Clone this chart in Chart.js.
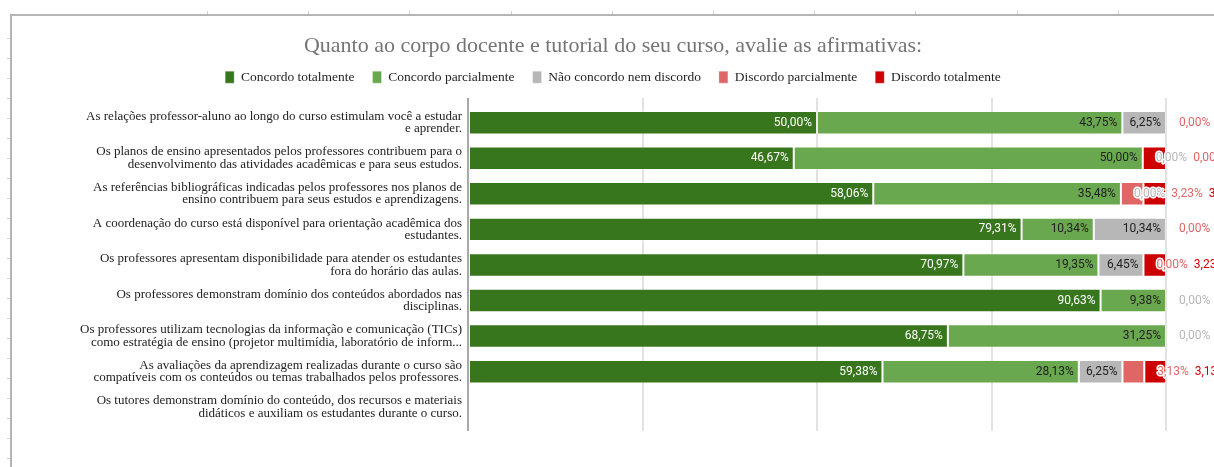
<!DOCTYPE html>
<html>
<head>
<meta charset="utf-8">
<script src="https://cdn.jsdelivr.net/npm/chart.js@4"></script>
<style>
  body { margin: 0; background: #fff; }
  canvas { display: block; }
</style>
</head>
<body>
<canvas id="chart" width="1214" height="467"></canvas>
<script>
// Data
const categories = [
    ["As relações professor-aluno ao longo do curso estimulam você a estudar", "e aprender."],
    ["Os planos de ensino apresentados pelos professores contribuem para o", "desenvolvimento das atividades acadêmicas e para seus estudos."],
    ["As referências bibliográficas indicadas pelos professores nos planos de", "ensino contribuem para seus estudos e aprendizagens."],
    ["A coordenação do curso está disponível para orientação acadêmica dos", "estudantes."],
    ["Os professores apresentam disponibilidade para atender os estudantes", "fora do horário das aulas."],
    ["Os professores demonstram domínio dos conteúdos abordados nas", "disciplinas."],
    ["Os professores utilizam tecnologias da informação e comunicação (TICs)", "como estratégia de ensino (projetor multimídia, laboratório de inform..."],
    ["As avaliações da aprendizagem realizadas durante o curso são", "compatíveis com os conteúdos ou temas trabalhados pelos professores."],
    ["Os tutores demonstram domínio do conteúdo, dos recursos e materiais", "didáticos e auxiliam os estudantes durante o curso."]
]
const seriesNames = ["Concordo totalmente", "Concordo parcialmente", "Não concordo nem discordo", "Discordo parcialmente", "Discordo totalmente"]
const concordoTotalmente   = [50.00, 46.67, 58.06, 79.31, 70.97, 90.63, 68.75, 59.38, null]
const concordoParcialmente = [43.75, 50.00, 35.48, 10.34, 19.35, 9.38, 31.25, 28.13, null]
const naoConcordo          = [6.25, 0, 0, 10.34, 6.45, 0, 0, 6.25, null]
const discordoParcialmente = [0, 0, 3.23, 0, 0, 0, 0, 3.13, null]
const discordoTotalmente   = [0, 3.33, 3.23, 0, 3.23, 0, 0, 3.13, null]
const xTicks = [0, 25, 50, 75, 100]

const colors = ["#38761d", "#6aa84f", "#b7b7b7", "#e06666", "#cc0000"]
const insideText = ["#ffffff", "#212121", "#212121", "#ffffff", "#ffffff"]
const seriesValues = [concordoTotalmente, concordoParcialmente, naoConcordo, discordoParcialmente, discordoTotalmente]

const serif = "'Liberation Serif', 'DejaVu Serif', serif"

// sheet frame behind the chart
const framePlugin = {
    id: "frame",
    beforeDraw(chart) {
        const ctx = chart.ctx
        ctx.save()
        ctx.fillStyle = "#fff"
        ctx.fillRect(0, 0, chart.width, chart.height)
        ctx.strokeStyle = "#b5b5b5"
        ctx.lineWidth = 2
        ctx.beginPath()
        ctx.moveTo(10, 15)
        ctx.lineTo(chart.width, 15)
        ctx.moveTo(11, 14)
        ctx.lineTo(11, chart.height)
        ctx.stroke()
        ctx.strokeStyle = "#d0d0d0"
        ctx.lineWidth = 1
        ctx.beginPath()
        for (let y = 38; y < chart.height; y += 20) {
            ctx.moveTo(7, y + 0.5)
            ctx.lineTo(10, y + 0.5)
        }
        for (let x = 207; x < chart.width; x += 101.2) {
            ctx.moveTo(Math.round(x) + 0.5, 11)
            ctx.lineTo(Math.round(x) + 0.5, 14)
        }
        ctx.stroke()
        ctx.restore()
    }
}

// value labels: inside when they fit, otherwise chained to the right
const labelPlugin = {
    id: "valueLabels",
    afterDatasetsDraw(chart) {
        const ctx = chart.ctx
        ctx.save()
        ctx.font = "12px Roboto"
        ctx.textBaseline = "middle"
        ctx.lineJoin = "round"
        categories.forEach((c, i) => {
            let chainEnd = -Infinity
            chart.data.datasets.forEach((ds, d) => {
                const v = ds.data[i]
                if (v === null || v === undefined) return
                const bar = chart.getDatasetMeta(d).data[i]
                const text = v.toFixed(2).replace(".", ",") + "%"
                const w = ctx.measureText(text).width
                const start = Math.min(bar.base, bar.x)
                const end = Math.max(bar.base, bar.x)
                if (end - start >= w + 9) {
                    ctx.textAlign = "right"
                    ctx.fillStyle = insideText[d]
                    ctx.fillText(text, end - 5, bar.y)
                } else {
                    const lx = Math.max(end + 13, chainEnd + 6)
                    ctx.textAlign = "left"
                    ctx.strokeStyle = "#ffffff"
                    ctx.lineWidth = 3
                    ctx.strokeText(text, lx, bar.y)
                    ctx.fillStyle = colors[d]
                    ctx.fillText(text, lx, bar.y)
                    chainEnd = lx + w
                }
            })
        })
        ctx.restore()
    }
}

const gridColor = (c) => c.tick && c.tick.value === 0 ? "#a8a8a8" : "#e2e2e2"

const ctx = document.getElementById("chart").getContext("2d")
const chart = new Chart(ctx, {
    type: "bar",
    data: {
        labels: categories,
        datasets: seriesValues.map((vals, d) => ({
            label: seriesNames[d],
            data: vals,
            backgroundColor: colors[d],
            borderColor: "rgba(255,255,255,0.3)",
            borderWidth: 1,
            borderSkipped: false,
            barPercentage: 0.66,
            categoryPercentage: 1
        }))
    },
    options: {
        indexAxis: "y",
        responsive: false,
        animation: false,
        events: [],
        layout: { padding: { top: 0, left: 12, right: 0, bottom: 36 } },
        plugins: {
            title: {
                display: true,
                text: "Quanto ao corpo docente e tutorial do seu curso, avalie as afirmativas:",
                color: "#757575",
                font: { family: serif, size: 22, weight: "normal", lineHeight: 1.2 },
                padding: { top: 33, bottom: -7 }
            },
            legend: {
                display: true,
                labels: {
                    boxWidth: 9,
                    boxHeight: 12,
                    padding: 18,
                    color: "#1f1f1f",
                    font: { family: serif, size: 13.5 }
                }
            },
            tooltip: { enabled: false }
        },
        scales: {
            x: {
                type: "linear",
                stacked: true,
                min: 0,
                max: 100,
                afterBuildTicks: (s) => { s.ticks = xTicks.map(v => ({ value: v })) },
                ticks: { display: false },
                grid: { color: gridColor, lineWidth: 2, drawTicks: true, tickLength: 6 },
                border: { display: false }
            },
            xTop: {
                type: "linear",
                position: "top",
                min: 0,
                max: 100,
                afterBuildTicks: (s) => { s.ticks = xTicks.map(v => ({ value: v })) },
                ticks: { display: false },
                grid: { color: gridColor, lineWidth: 2, drawOnChartArea: false, drawTicks: true, tickLength: 7 },
                border: { display: false },
                title: { display: true, text: "", font: { size: 4, lineHeight: 1 }, padding: 0 }
            },
            y: {
                stacked: true,
                afterFit: (s) => { s.width = 456 },
                ticks: {
                    color: "#222",
                    padding: 6,
                    font: { family: serif, size: 13, lineHeight: 0.95 }
                },
                grid: { display: false, drawTicks: false },
                border: { display: false }
            },
            yRight: {
                type: "linear",
                position: "right",
                afterFit: (s) => { s.width = 48 },
                ticks: { display: false },
                grid: { display: false },
                border: { display: false }
            }
        }
    },
    plugins: [framePlugin, labelPlugin]
})
</script>
</body>
</html>
